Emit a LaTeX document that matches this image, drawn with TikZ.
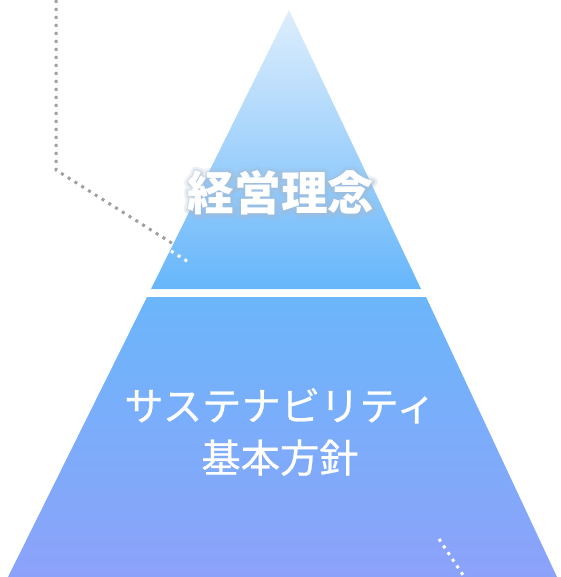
\documentclass[tikz,border=0pt]{standalone}
\usepackage{fontspec}
\newfontfamily\cjk{Noto Sans CJK JP}
\newfontfamily\cjkmed{Noto Sans CJK JP}[FakeBold=0.6]
\newfontfamily\cjkhaloA{Noto Sans CJK JP}[FakeBold=20]
\newfontfamily\cjkhaloB{Noto Sans CJK JP}[FakeBold=10]
\begin{document}
\begin{tikzpicture}[x=0.75pt,y=-0.75pt,
  dotline/.style={line width=2.25pt,dash pattern=on 2.25pt off 3.75pt},
  graydots/.style={dotline,draw={rgb,255:red,160;green,160;blue,160}},
  whitedots/.style={dotline,draw=white},
  toplabel/.style={font=\cjk\bfseries\fontsize{35pt}{40pt}\selectfont,text=white,inner sep=0pt},
  haloouter/.style={font=\cjkhaloA\bfseries\fontsize{35pt}{40pt}\selectfont,text=haloC,opacity=0.2,line join=round,inner sep=0pt},
  haloinner/.style={font=\cjkhaloB\bfseries\fontsize{35pt}{40pt}\selectfont,text=haloC,opacity=0.35,line join=round,inner sep=0pt},
  lowlabel/.style={font=\cjkmed\fontsize{29.5pt}{39pt}\selectfont,text=white,align=center,inner sep=0pt}
]
\definecolor{topA}{RGB}{222,238,252}
\definecolor{topB}{RGB}{102,182,251}
\definecolor{lowA}{RGB}{108,182,251}
\definecolor{lowB}{RGB}{140,162,250}
\definecolor{haloC}{RGB}{165,185,210}
\useasboundingbox (0,0) rectangle (560,577);
% gray dotted leader (behind pyramid)
\coordinate (l0) at (56,0);
\coordinate (l1) at (56,170);
\coordinate (l2) at (197,259);
\draw[graydots] (l0) -- (l1) -- (l2);
\coordinate (r0) at (449,548);
\coordinate (r1) at (471,581);
\draw[graydots] (r0) -- (r1);
% pyramid
\shade[top color=topA,bottom color=topB] (289,10) -- (421,289) -- (151,289) -- cycle;
\shade[top color=lowA,bottom color=lowB] (147,297) -- (426,297) -- (557,577) -- (8,577) -- cycle;
% white dotted over pyramid
\coordinate (w0) at (171,251);
\coordinate (w1) at (190,263);
\draw[whitedots] (w0) -- (w1);
\coordinate (v0) at (439,539);
\coordinate (v1) at (465,578);
\draw[whitedots] (v0) -- (v1);
% labels
\node[haloouter] (philohaloA) at (281,193) {\pgfsetroundjoin 経営理念};
\node[haloinner] (philohaloB) at (281,193) {\pgfsetroundjoin 経営理念};
\node[toplabel] (philo) at (281,193) {経営理念};
\node[lowlabel] (policy) at (280,432) {サステナビリティ\\基本方針};
\end{tikzpicture}
\end{document}
